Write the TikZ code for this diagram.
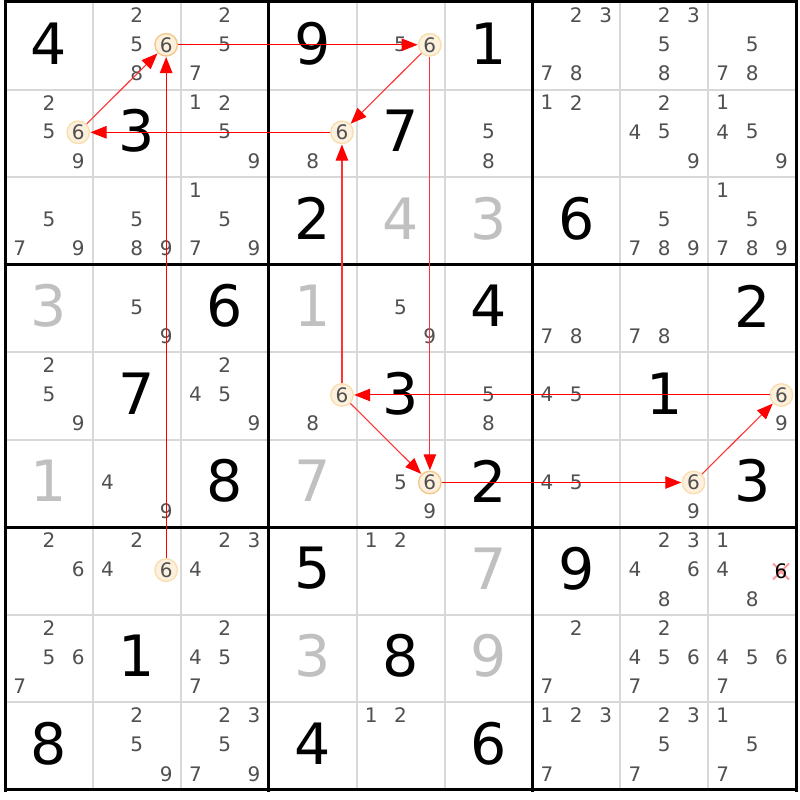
\documentclass[tikz,border=0pt]{standalone}
\usepackage{fontspec}
\setmainfont{DejaVu Sans}
\usetikzlibrary{arrows.meta}
\definecolor{candc}{RGB}{80,80,80}
\definecolor{givc}{RGB}{192,192,192}
\definecolor{hlfill}{RGB}{253,241,222}
\definecolor{hlbord}{RGB}{249,223,176}
\definecolor{hlbordb}{RGB}{244,200,138}
\definecolor{gridc}{RGB}{216,216,216}
\definecolor{xc}{RGB}{255,150,150}
\tikzset{
  cand/.style={text=candc, font=\fontsize{20}{20}\selectfont, inner sep=0pt},
  bigdig/.style={font=\fontsize{57}{57}\selectfont, inner sep=0pt},
  hl/.style={circle, draw=hlbord, fill=hlfill, line width=1.4pt, minimum size=22.5pt, inner sep=0pt, text=candc, font=\fontsize{20}{20}\selectfont},
  hlb/.style={draw=hlbordb},
  lnk/.style={draw=red, line width=1pt, -{Triangle[length=16pt,width=12.5pt,color=red]}, shorten >=0.3pt},
  faint/.style={draw=red!80, line width=1.1pt},
  thingrid/.style={draw=gridc, line width=2pt},
  thickgrid/.style={draw=black, line width=3pt},
}
\newcommand\BigDig[4]{%
  \pgfmathsetmacro\px{5+(#2-0.5)*87.9}%
  \pgfmathsetmacro\py{2+(#1-0.5)*87.55-2.5}%
  \node[bigdig,text=#4] (b-#1-#2) at (\px,\py) {#3};}
\newcommand\Cnd[3]{%
  \pgfmathsetmacro\px{5+(#2-1)*87.9+(mod(#3-1,3)+0.5)*29.3}%
  \pgfmathsetmacro\py{2+(#1-1)*87.55+(floor((#3-1)/3)+0.5)*29.18-1.5}%
  \node[cand] (k-#1-#2-#3) at (\px,\py) {#3};}
\newcommand\Cnds[3]{\foreach \dd in {#3}{\Cnd{#1}{#2}{\dd}}}
\newcommand\HCnd[5]{%
  \pgfmathsetmacro\px{5+(#2-1)*87.9+(mod(#3-1,3)+0.5)*29.3}%
  \pgfmathsetmacro\py{2+(#1-1)*87.55+(floor((#3-1)/3)+0.5)*29.18-1}%
  \node[hl,#5] (#4) at (\px,\py) {#3};}
\begin{document}
\begin{tikzpicture}[x=1pt,y=-1pt]
\fill[white] (0,0) rectangle (800,800);
\useasboundingbox (0,0) rectangle (800,800);
% grid
\foreach \i in {1,2,4,5,7,8} {
  \draw[thingrid] ({5+\i*87.9},2) -- ({5+\i*87.9},790);
  \draw[thingrid] (5,{2+\i*87.55}) -- (796,{2+\i*87.55});
}
\foreach \i in {0,3,6,9} {
  \draw[thickgrid] ({5+\i*87.9},0.5) -- ({5+\i*87.9},791.5);
  \draw[thickgrid] (3.5,{2+\i*87.55}) -- (797.5,{2+\i*87.55});
}
% big digits black
\BigDig{1}{1}{4}{black}\BigDig{1}{4}{9}{black}\BigDig{1}{6}{1}{black}
\BigDig{2}{2}{3}{black}\BigDig{2}{5}{7}{black}
\BigDig{3}{4}{2}{black}\BigDig{3}{7}{6}{black}
\BigDig{4}{3}{6}{black}\BigDig{4}{6}{4}{black}\BigDig{4}{9}{2}{black}
\BigDig{5}{2}{7}{black}\BigDig{5}{5}{3}{black}\BigDig{5}{8}{1}{black}
\BigDig{6}{3}{8}{black}\BigDig{6}{6}{2}{black}\BigDig{6}{9}{3}{black}
\BigDig{7}{4}{5}{black}\BigDig{7}{7}{9}{black}
\BigDig{8}{2}{1}{black}\BigDig{8}{5}{8}{black}
\BigDig{9}{1}{8}{black}\BigDig{9}{4}{4}{black}\BigDig{9}{6}{6}{black}
% big digits gray
\BigDig{3}{5}{4}{givc}\BigDig{3}{6}{3}{givc}
\BigDig{4}{1}{3}{givc}\BigDig{4}{4}{1}{givc}
\BigDig{6}{1}{1}{givc}\BigDig{6}{4}{7}{givc}
\BigDig{7}{6}{7}{givc}
\BigDig{8}{4}{3}{givc}\BigDig{8}{6}{9}{givc}
% candidates
\Cnds{1}{2}{2,5,8}\Cnds{1}{3}{2,5,7}\Cnds{1}{5}{5}\Cnds{1}{7}{2,3,7,8}\Cnds{1}{8}{2,3,5,8}\Cnds{1}{9}{5,7,8}
\Cnds{2}{1}{2,5,9}\Cnds{2}{3}{1,2,5,9}\Cnds{2}{4}{8}\Cnds{2}{6}{5,8}\Cnds{2}{7}{1,2}\Cnds{2}{8}{2,4,5,9}\Cnds{2}{9}{1,4,5,9}
\Cnds{3}{1}{5,7,9}\Cnds{3}{2}{5,8,9}\Cnds{3}{3}{1,5,7,9}\Cnds{3}{8}{5,7,8,9}\Cnds{3}{9}{1,5,7,8,9}
\Cnds{4}{2}{5,9}\Cnds{4}{5}{5,9}\Cnds{4}{7}{7,8}\Cnds{4}{8}{7,8}
\Cnds{5}{1}{2,5,9}\Cnds{5}{3}{2,4,5,9}\Cnds{5}{4}{8}\Cnds{5}{6}{5,8}\Cnds{5}{7}{4,5}\Cnds{5}{9}{9}
\Cnds{6}{2}{4,9}\Cnds{6}{5}{5,9}\Cnds{6}{7}{4,5}\Cnds{6}{8}{9}
\Cnds{7}{1}{2,6}\Cnds{7}{2}{2,4}\Cnds{7}{3}{2,3,4}\Cnds{7}{5}{1,2}\Cnds{7}{8}{2,3,4,6,8}\Cnds{7}{9}{1,4,8}
\Cnds{8}{1}{2,5,6,7}\Cnds{8}{3}{2,4,5,7}\Cnds{8}{7}{2,7}\Cnds{8}{8}{2,4,5,6,7}\Cnds{8}{9}{4,5,6,7}
\Cnds{9}{2}{2,5,9}\Cnds{9}{3}{2,3,5,7,9}\Cnds{9}{5}{1,2}\Cnds{9}{7}{1,2,3,7}\Cnds{9}{8}{2,3,5,7}\Cnds{9}{9}{1,5,7}
% eliminated candidate
\coordinate (xm) at (781,571.5);
\draw[xc, line width=2pt] ([shift={(-8,-8)}]xm) -- ([shift={(8,8)}]xm);
\draw[xc, line width=2pt] ([shift={(-8,8)}]xm) -- ([shift={(8,-8)}]xm);
\node[cand,text=black] (k-7-9-6) at (xm) {6};
% highlighted candidates
\HCnd{1}{2}{6}{h12}{hlb}
\HCnd{1}{5}{6}{h15}{}
\HCnd{2}{1}{6}{h21}{}
\HCnd{2}{4}{6}{h24}{}
\HCnd{5}{4}{6}{h54}{}
\HCnd{5}{9}{6}{h59}{}
\HCnd{6}{5}{6}{h65}{hlb}
\HCnd{6}{8}{6}{h68}{}
\HCnd{7}{2}{6}{h72}{}
% links
\draw[lnk] (h12) -- (h15);
\draw[lnk,faint] (h15) -- (h24);
\draw[lnk] (h24) -- (h21);
\draw[lnk,faint] (h21) -- (h12);
\draw[lnk] (h72) -- (h12);
\draw[lnk,faint] (h15) -- (h65);
\draw[lnk,faint] (h54) -- (h24);
\draw[lnk] (h59) -- (h54);
\draw[lnk,faint] (h54) -- (h65);
\draw[lnk] (h65) -- (h68);
\draw[lnk,faint] (h68) -- (h59);
\end{tikzpicture}
\end{document}
